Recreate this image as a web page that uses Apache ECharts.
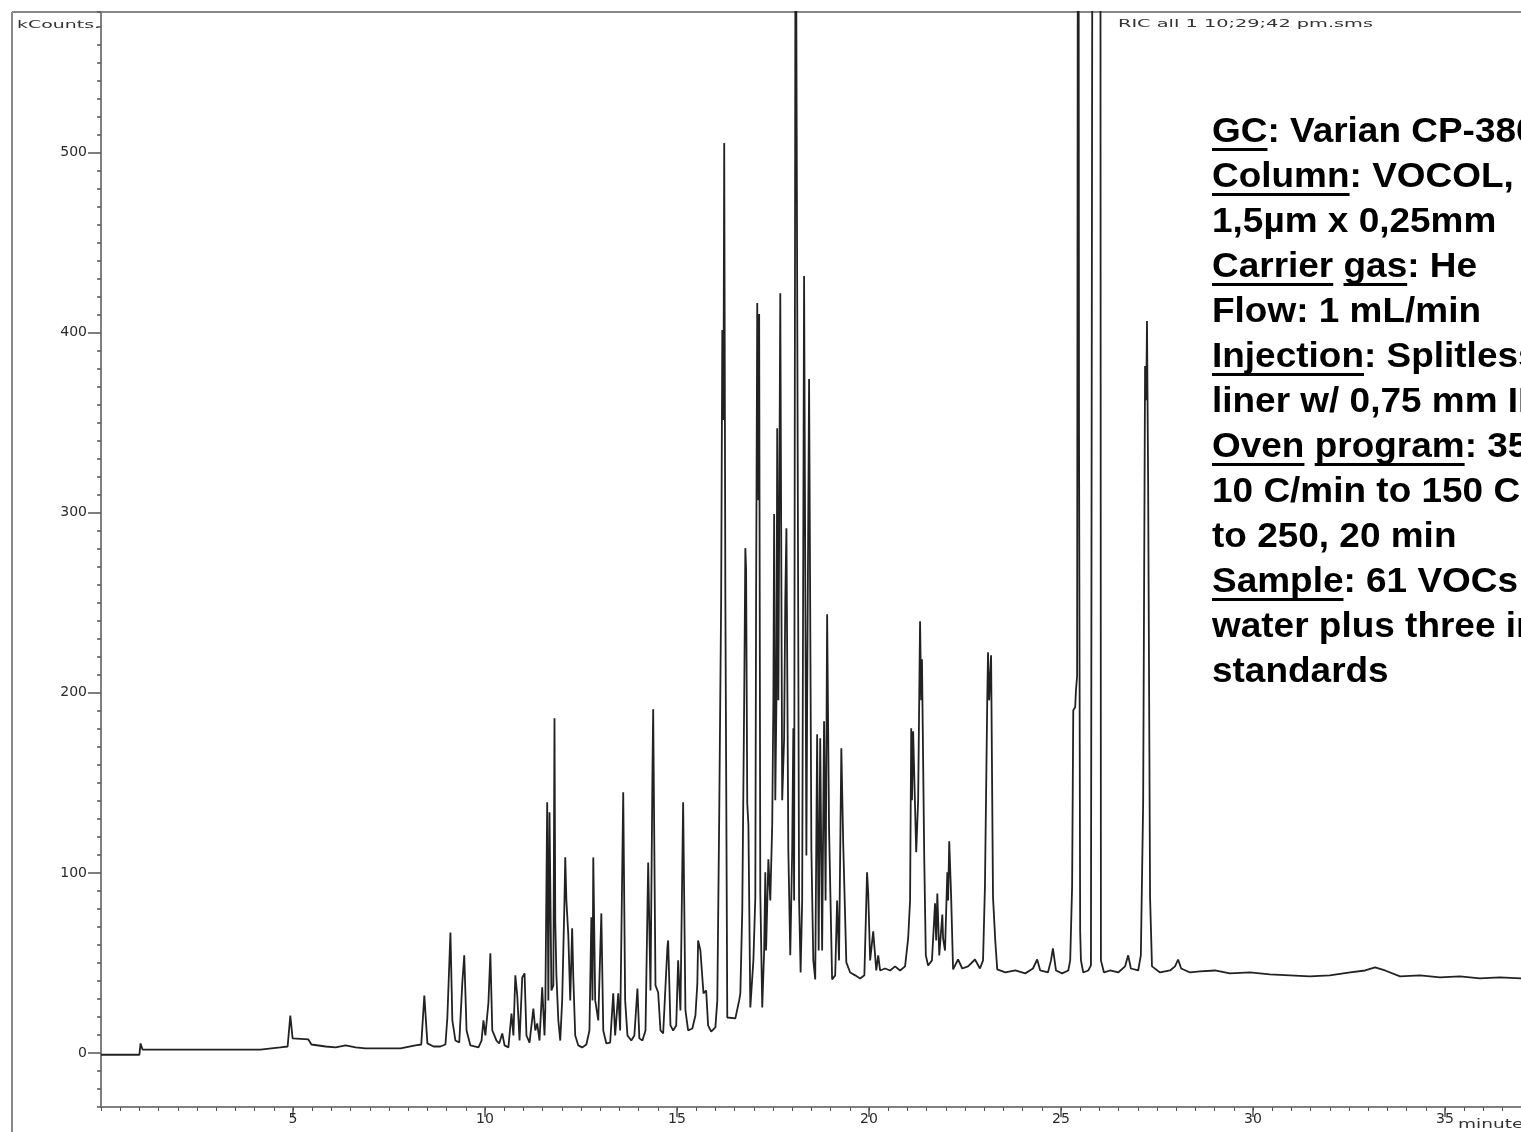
<!DOCTYPE html>
<html>
<head>
<meta charset="utf-8">
<script src="https://cdn.jsdelivr.net/npm/echarts@6/dist/echarts.min.js"></script>
<style>
  html, body { margin: 0; padding: 0; background: #fff; }
  #chart { width: 1521px; height: 1132px; }
</style>
</head>
<body>
<div id="chart"></div>
<script>
// retention time (minutes) and detector response (kCounts)
const times = [
  0, 1.00, 1.03, 1.08, 4.15, 4.67, 4.86, 4.93, 4.99, 5.40,
  5.48, 5.85, 6.11, 6.37, 6.63, 6.89, 7.80, 8.19, 8.34, 8.42,
  8.50, 8.66, 8.84, 8.97, 9.02, 9.10, 9.15, 9.23, 9.33, 9.41,
  9.46, 9.52, 9.62, 9.83, 9.91, 9.96, 10.01, 10.09, 10.14, 10.19,
  10.30, 10.37, 10.45, 10.51, 10.61, 10.69, 10.74, 10.79, 10.84, 10.90,
  10.97, 11.03, 11.08, 11.16, 11.26, 11.31, 11.36, 11.42, 11.49, 11.55,
  11.57, 11.62, 11.65, 11.68, 11.73, 11.78, 11.81, 11.83, 11.86, 11.91,
  11.96, 12.01, 12.07, 12.09, 12.12, 12.17, 12.22, 12.27, 12.30, 12.35,
  12.43, 12.53, 12.64, 12.72, 12.77, 12.80, 12.82, 12.87, 12.95, 13.03,
  13.08, 13.16, 13.26, 13.34, 13.39, 13.47, 13.52, 13.60, 13.65, 13.71,
  13.81, 13.89, 13.97, 14.02, 14.10, 14.18, 14.25, 14.31, 14.36, 14.38,
  14.44, 14.51, 14.57, 14.64, 14.75, 14.77, 14.83, 14.90, 14.98, 15.03,
  15.09, 15.16, 15.22, 15.29, 15.40, 15.48, 15.53, 15.55, 15.61, 15.69,
  15.76, 15.81, 15.89, 16.00, 16.05, 16.10, 16.15, 16.18, 16.21, 16.23,
  16.26, 16.31, 16.52, 16.62, 16.65, 16.70, 16.75, 16.78, 16.80, 16.83,
  16.86, 16.91, 16.99, 17.04, 17.06, 17.09, 17.12, 17.14, 17.17, 17.22,
  17.27, 17.30, 17.32, 17.38, 17.43, 17.48, 17.51, 17.53, 17.56, 17.59,
  17.61, 17.64, 17.69, 17.74, 17.79, 17.82, 17.85, 17.87, 17.90, 17.95,
  18.00, 18.03, 18.05, 18.09, 18.14, 18.18, 18.22, 18.26, 18.31, 18.37,
  18.39, 18.44, 18.50, 18.55, 18.60, 18.65, 18.69, 18.73, 18.78, 18.83,
  18.87, 18.91, 18.96, 19.04, 19.12, 19.17, 19.22, 19.28, 19.33, 19.41,
  19.51, 19.64, 19.77, 19.88, 19.95, 19.98, 20.03, 20.11, 20.19, 20.24,
  20.29, 20.42, 20.55, 20.68, 20.81, 20.94, 21.02, 21.07, 21.10, 21.12,
  21.15, 21.23, 21.28, 21.33, 21.36, 21.38, 21.44, 21.48, 21.54, 21.64,
  21.72, 21.75, 21.78, 21.83, 21.91, 21.93, 21.98, 22.04, 22.06, 22.09,
  22.14, 22.19, 22.32, 22.43, 22.58, 22.76, 22.89, 22.97, 23.02, 23.08,
  23.10, 23.13, 23.18, 23.23, 23.29, 23.34, 23.55, 23.81, 24.07, 24.27,
  24.38, 24.46, 24.66, 24.74, 24.79, 24.87, 25.03, 25.19, 25.24, 25.29,
  25.32, 25.37, 25.39, 25.42, 25.45, 25.47, 25.50, 25.52, 25.58, 25.71,
  25.78, 25.84, 26.02, 26.04, 26.12, 26.28, 26.49, 26.67, 26.75, 26.82,
  27.01, 27.08, 27.14, 27.19, 27.22, 27.24, 27.27, 27.32, 27.37, 27.58,
  27.84, 27.97, 28.05, 28.13, 28.36, 28.62, 29.01, 29.40, 29.92, 30.44,
  30.96, 31.48, 32.00, 32.53, 32.92, 33.18, 33.44, 33.83, 34.35, 34.87,
  35.39, 35.91, 36.43, 36.98
];
const counts = [
  -1, -1, 5.3, 1.9, 1.9, 3.1, 3.6, 20.8, 8.1, 7.5,
  4.7, 3.6, 3.1, 4.2, 3.1, 2.5, 2.5, 4.2, 4.7, 31.9,
  5.3, 3.6, 3.6, 4.7, 19.7, 66.9, 18.1, 6.9, 5.8, 39.2,
  54.2, 12.5, 4.2, 3.1, 6.9, 18.1, 9.7, 28.1, 55.3, 12.5,
  6.9, 5.3, 10.8, 4.2, 3.1, 21.9, 9.7, 43.1, 31.9, 6.9,
  41.9, 44.2, 9.7, 5.8, 24.7, 12.5, 16.4, 6.9, 36.4, 9.7,
  23.6, 139.2, 29.2, 133.6, 34.7, 37.5, 185.8, 73.6, 43.1, 18.1,
  6.9, 29.2, 84.7, 108.6, 84.7, 65.3, 29.2, 69.2, 41.9, 9.7,
  4.2, 3.1, 4.7, 12.5, 75.3, 29.2, 108.6, 29.2, 18.1, 77.5,
  12.5, 5.3, 5.8, 33.1, 9.7, 33.1, 12.5, 144.7, 29.2, 9.7,
  6.9, 9.7, 35.8, 8.1, 6.9, 12.5, 105.8, 34.7, 153.1, 190.8,
  37.5, 33.6, 12.5, 10.8, 58.6, 62.5, 15.3, 12.5, 15.3, 51.4,
  23.6, 139.2, 23.6, 12.5, 13.6, 20.8, 38.6, 62.5, 56.9, 33.1,
  34.7, 15.3, 11.9, 14.2, 29.2, 132.5, 251.4, 401.4, 351.4, 505.3,
  251.4, 19.7, 19.2, 29.2, 33.1, 79.2, 195.8, 280.3, 268.6, 138.6,
  126.9, 25.3, 51.4, 86.4, 251.4, 416.4, 306.9, 410.3, 88.6, 25.3,
  56.9, 100.3, 56.9, 107.5, 84.7, 126.9, 195.8, 299.2, 140.3, 195.8,
  346.9, 195.8, 421.9, 140.3, 174.7, 251.4, 291.4, 291.4, 112.5, 54.2,
  112.5, 180.3, 84.7, 700, 700, 84.7, 44.7, 84.7, 431.4, 109.7,
  195.8, 374.2, 112.5, 51.4, 40.8, 176.9, 56.9, 174.7, 56.9, 184.2,
  84.7, 243.6, 124.7, 40.8, 43.1, 84.7, 51.4, 169.2, 115.3, 50.3,
  44.7, 43.1, 41.4, 43.1, 100.3, 88.6, 51.4, 67.5, 45.8, 54.2,
  45.8, 46.9, 45.8, 48.1, 45.8, 48.1, 63.6, 84.7, 180.3, 140.3,
  178.6, 111.4, 140.3, 239.7, 195.8, 218.6, 106.9, 54.2, 48.6, 51.4,
  83.1, 62.5, 88.6, 54.2, 76.9, 63.6, 56.9, 100.3, 84.7, 117.5,
  86.4, 46.4, 51.9, 46.9, 48.1, 51.9, 46.9, 51.4, 92.5, 195.8,
  222.5, 195.8, 220.8, 86.4, 61.9, 46.4, 44.7, 45.8, 44.2, 46.9,
  51.9, 45.8, 44.7, 51.4, 58.1, 45.8, 44.2, 45.8, 51.4, 92.5,
  190.3, 191.9, 201.4, 209.2, 900, 343.6, 67.5, 51.4, 44.7, 45.8,
  48.6, 1000, 1000, 51.4, 44.7, 45.8, 44.7, 48.1, 54.2, 46.9,
  45.8, 54.2, 138.6, 381.4, 362.5, 406.4, 316.4, 86.4, 48.1, 44.7,
  45.8, 48.1, 51.9, 46.9, 44.7, 45.3, 45.8, 44.2, 44.7, 43.6,
  43.1, 42.5, 43.1, 44.7, 45.8, 47.5, 45.8, 42.5, 43.1, 42,
  42.5, 41.4, 42, 41.4
];
const yTickValues = [0, 100, 200, 300, 400, 500];
const xTickValues = [5, 10, 15, 20, 25, 30, 35];

// method notes, each line split into [text, underlined]
const noteLines = [
  [['GC', 1], [': Varian CP-3800', 0]],
  [['Column', 1], [': VOCOL,', 0]],
  [['1,5µm x 0,25mm', 0]],
  [['Carrier', 1], [' ', 0], ['gas', 1], [': He', 0]],
  [['Flow: 1 mL/min', 0]],
  [['Injection', 1], [': Splitless', 0]],
  [['liner w/ 0,75 mm ID', 0]],
  [['Oven', 1], [' ', 0], ['program', 1], [': 35', 0]],
  [['10 C/min to 150 C', 0]],
  [['to 250, 20 min', 0]],
  [['Sample', 1], [': 61 VOCs', 0]],
  [['water plus three in', 0]],
  [['standards', 0]]
];

const ctx = document.createElement('canvas').getContext('2d');
function textWidth(str, font) {
  ctx.font = font;
  return ctx.measureText(str).width;
}

const smallFont = '10px "DejaVu Sans"';
function stretchedText(str, x, y, width, font) {
  return {
    type: 'text', x: x, y: y, scaleX: width / textWidth(str, font),
    style: { text: str, font: font, fill: '#333', textAlign: 'left', verticalAlign: 'middle', textVerticalAlign: 'middle' }
  };
}

const noteFont = 'bold 35px "Liberation Sans", Arial, sans-serif';
const noteScale = 269 / textWidth('Flow: 1 mL/min', noteFont);
const graphics = [
  { type: 'line', shape: { x1: 12, y1: 12, x2: 12, y2: 1132 }, style: { stroke: '#888', lineWidth: 2 } },
  { type: 'line', shape: { x1: 12, y1: 12, x2: 1521, y2: 12 }, style: { stroke: '#888', lineWidth: 2 } },
  stretchedText('kCounts.', 17, 25, 83, smallFont),
  stretchedText('RIC all 1 10;29;42 pm.sms', 1118, 24, 255, smallFont),
  stretchedText('minutes', 1458, 1125, 75, '12px "DejaVu Sans"')
];

noteLines.forEach((segs, i) => {
  const base = 144 + i * 45;
  const full = segs.map(s => s[0]).join('');
  graphics.push({
    type: 'text', x: 1212, y: base - 12, scaleX: noteScale,
    style: { text: full, font: noteFont, fill: '#000', textAlign: 'left', verticalAlign: 'middle', textVerticalAlign: 'middle' }
  });
  let prefix = '';
  segs.forEach(s => {
    if (s[1]) {
      graphics.push({
        type: 'rect',
        shape: { x: 1212 + textWidth(prefix, noteFont) * noteScale, y: base + 4, width: textWidth(s[0], noteFont) * noteScale, height: 3 },
        style: { fill: '#000' }
      });
    }
    prefix += s[0];
  });
});

const axisLine = { show: true, onZero: false, lineStyle: { color: '#808080', width: 2 } };
const tickFont = { fontFamily: 'DejaVu Sans', fontSize: 14, color: '#2a2a2a' };

const option = {
  animation: false,
  backgroundColor: '#fff',
  grid: { left: 101, top: 12, right: 0, bottom: 25, containLabel: false, outerBoundsMode: 'none' },
  xAxis: [
    {
      type: 'value', min: 0, max: 36.98, interval: 0.5,
      axisLine: axisLine,
      axisTick: { show: true, length: 4, lineStyle: { color: '#555', width: 1 } },
      axisLabel: { show: false }, splitLine: { show: false }
    },
    {
      type: 'value', min: 0, max: 36.98, position: 'bottom',
      axisLine: { show: false, onZero: false },
      axisTick: { show: true, length: 10, customValues: xTickValues, lineStyle: { color: '#555', width: 1.5 } },
      axisLabel: Object.assign({ show: true, margin: 5, customValues: xTickValues }, tickFont),
      splitLine: { show: false }
    }
  ],
  yAxis: [
    {
      type: 'value', min: -30, max: 578, interval: 10,
      axisLine: axisLine,
      axisTick: { show: true, length: 4, lineStyle: { color: '#555', width: 1.5 } },
      axisLabel: { show: false }, splitLine: { show: false }
    },
    {
      type: 'value', min: -30, max: 578, position: 'left',
      axisLine: { show: false, onZero: false },
      axisTick: { show: true, length: 13, customValues: yTickValues, lineStyle: { color: '#555', width: 1.5 } },
      axisLabel: Object.assign({ show: true, margin: 14, customValues: yTickValues }, tickFont),
      splitLine: { show: false }
    }
  ],
  series: [
    {
      type: 'line',
      xAxisIndex: 0, yAxisIndex: 0,
      data: times.map((t, i) => [t, counts[i]]),
      showSymbol: false,
      clip: true,
      lineStyle: { color: '#222', width: 1.8 }
    }
  ],
  graphic: { elements: graphics }
};

const chart = echarts.init(document.getElementById('chart'));
chart.setOption(option);
</script>
</body>
</html>
